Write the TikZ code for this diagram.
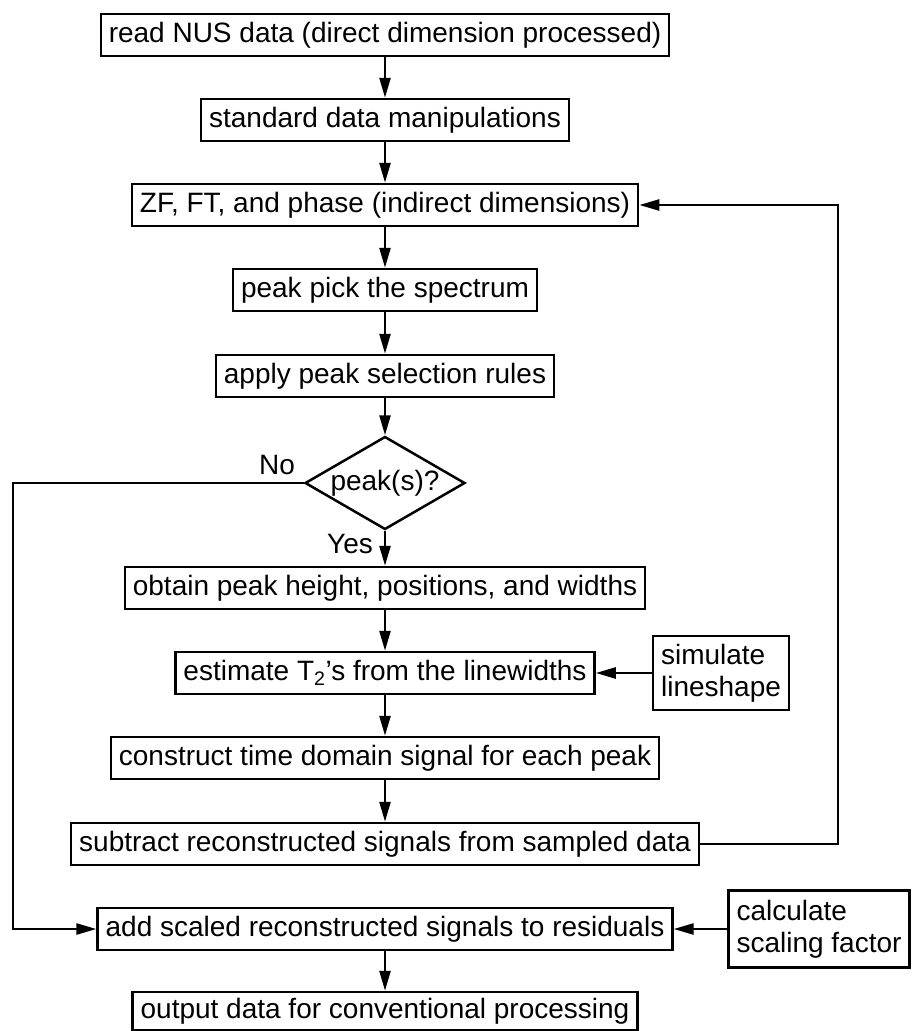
\documentclass[tikz,border=0pt]{standalone}
\usepackage{fontspec}
\setmainfont{Liberation Sans}
\usetikzlibrary{shapes.geometric,arrows.meta}
\begin{document}
\begin{tikzpicture}[x=1pt,y=-1pt,
  every node/.style={font=\fontsize{28}{32}\selectfont},
  box/.style={draw, line width=2.5pt, inner xsep=8pt, inner ysep=0pt, text height=20pt, text depth=6pt, minimum height=42pt},
  sidebox/.style={draw, line width=2.5pt, inner xsep=8pt, inner ysep=4pt, align=left},
  dec/.style={draw, diamond, line width=2.5pt, aspect=1.72, inner sep=0pt, minimum width=160pt, minimum height=93pt},
  lbl/.style={inner sep=0pt},
  arr/.style={line width=2.5pt, -{Triangle[length=20pt,width=11pt]}}]
\useasboundingbox (0,0) rectangle (912,1031);
\node[box] (n1) at (385,35) {read NUS data (direct dimension processed)};
\node[box] (n2) at (385,120) {standard data manipulations};
\node[box] (n3) at (385,205) {ZF, FT, and phase (indirect dimensions)};
\node[box] (n4) at (385,290) {peak pick the spectrum};
\node[box] (n5) at (385,376) {apply peak selection rules};
\node[dec] (d) at (385,483) {peak(s)?};
\node[box] (n6) at (385,588) {obtain peak height, positions, and widths};
\node[box] (n7) at (385,673) {estimate T\textsubscript{2}’s from the linewidths};
\node[box] (n8) at (385,758) {construct time domain signal for each peak};
\node[box] (n9) at (385,844) {subtract reconstructed signals from sampled data};
\node[box] (n10) at (385,929) {add scaled reconstructed signals to residuals};
\node[box, minimum height=38pt] (n11) at (385,1011) {output data for conventional processing};
\node[sidebox, minimum height=74pt] (sim) at (721,673) {simulate\\lineshape};
\node[sidebox, minimum height=77pt] (calc) at (819,929) {calculate\\scaling factor};
\node[lbl] (no) at (277,465) {No};
\node[lbl] (yes) at (350,544) {Yes};
\coordinate (rx) at (838,0);
\coordinate (lx) at (13,0);
\draw[arr] (n1) -- (n2);
\draw[arr] (n2) -- (n3);
\draw[arr] (n3) -- (n4);
\draw[arr] (n4) -- (n5);
\draw[arr] (n5) -- (d);
\draw[arr] (d) -- (n6);
\draw[arr] (n6) -- (n7);
\draw[arr] (n7) -- (n8);
\draw[arr] (n8) -- (n9);
\draw[arr] (n10) -- (n11);
\draw[arr] (sim) -- (n7);
\draw[arr] (calc) -- (n10);
\draw[arr] (n9.east) -- (n9.east -| rx) -- (n3.east -| rx) -- (n3.east);
\draw[arr] (d.west) -- (d.west -| lx) -- (n10.west -| lx) -- (n10.west);
\end{tikzpicture}
\end{document}
